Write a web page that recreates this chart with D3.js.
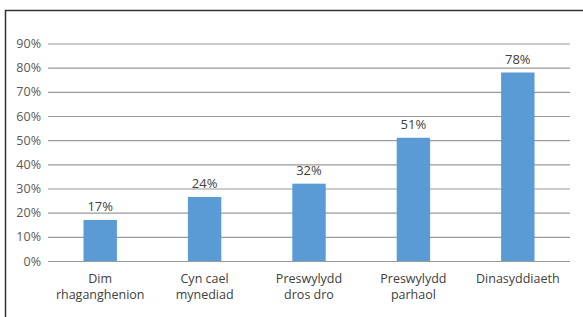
<!DOCTYPE html>
<html lang="cy">
<head>
    <meta charset="UTF-8">
    <title>Chart</title>
    <script src="https://d3js.org/d3.v7.min.js"></script>
    <style>
        html, body { margin: 0; padding: 0; background: #fff; }
        svg { display: block; font-family: "Open Sans", sans-serif; }
    </style>
</head>
<body>
    <svg id="chart" width="583" height="317"></svg>
    <script>
        // data
        const categories = [
            ["Dim", "rhaganghenion"],
            ["Cyn cael", "mynediad"],
            ["Preswylydd", "dros dro"],
            ["Preswylydd", "parhaol"],
            ["Dinasyddiaeth"]
        ];
        const values = [17, 26.5, 32, 51, 78];          // bar heights as drawn
        const valueLabels = ["17%", "24%", "32%", "51%", "78%"]; // printed labels
        const yTicks = [0, 10, 20, 30, 40, 50, 60, 70, 80, 90];

        const svg = d3.select("#chart"),
              margin = { top: 43.5, right: 13, bottom: 56, left: 48 },
              width = +svg.attr("width"),
              height = +svg.attr("height");

        // frame (only top and left edges fall inside the picture)
        svg.append("rect")
            .attr("x", 5.5).attr("y", 10.5)
            .attr("width", 700).attr("height", 500)
            .attr("fill", "none")
            .attr("stroke", "#333")
            .attr("stroke-width", 1.5);

        const x = d3.scaleBand()
            .domain(d3.range(categories.length))
            .range([margin.left, width - margin.right])
            .paddingInner(0.68)
            .paddingOuter(0.34);

        const y = d3.scaleLinear()
            .domain([0, 90])
            .range([height - margin.bottom, margin.top]);

        // gridlines + tick labels
        const yAxis = svg.append("g")
            .attr("transform", `translate(${margin.left},0)`)
            .call(d3.axisLeft(y)
                .tickValues(yTicks)
                .tickFormat(d => d + "%")
                .tickSize(-(width - margin.left - margin.right))
                .tickPadding(7));
        yAxis.select(".domain").remove();
        yAxis.selectAll(".tick line")
            .attr("stroke", "#9a9a9a")
            .attr("stroke-width", 1.2);
        yAxis.selectAll(".tick text")
            .attr("fill", "#595959")
            .attr("font-size", "12.5px")
            .attr("font-family", "'Open Sans', sans-serif");

        // bars
        svg.selectAll(".bar")
            .data(values)
            .enter().append("rect")
            .attr("class", "bar")
            .attr("x", (d, i) => x(i))
            .attr("y", d => y(d))
            .attr("width", x.bandwidth())
            .attr("height", d => y(0) - y(d))
            .attr("fill", "#5b9bd5");

        // value labels
        svg.selectAll(".val")
            .data(values)
            .enter().append("text")
            .attr("class", "val")
            .attr("x", (d, i) => x(i) + x.bandwidth() / 2)
            .attr("y", d => y(d) - 9)
            .attr("text-anchor", "middle")
            .attr("font-size", "13px")
            .attr("fill", "#404040")
            .text((d, i) => valueLabels[i]);

        // category labels
        const cat = svg.selectAll(".cat")
            .data(categories)
            .enter().append("text")
            .attr("class", "cat")
            .attr("x", (d, i) => x(i) + x.bandwidth() / 2)
            .attr("y", y(0) + 22)
            .attr("text-anchor", "middle")
            .attr("font-size", "12.5px")
            .attr("fill", "#404040");
        cat.each(function(lines) {
            const t = d3.select(this);
            lines.forEach((line, j) => {
                t.append("tspan")
                    .attr("x", t.attr("x"))
                    .attr("dy", j === 0 ? 0 : 15.5)
                    .text(line);
            });
        });
    </script>
</body>
</html>
